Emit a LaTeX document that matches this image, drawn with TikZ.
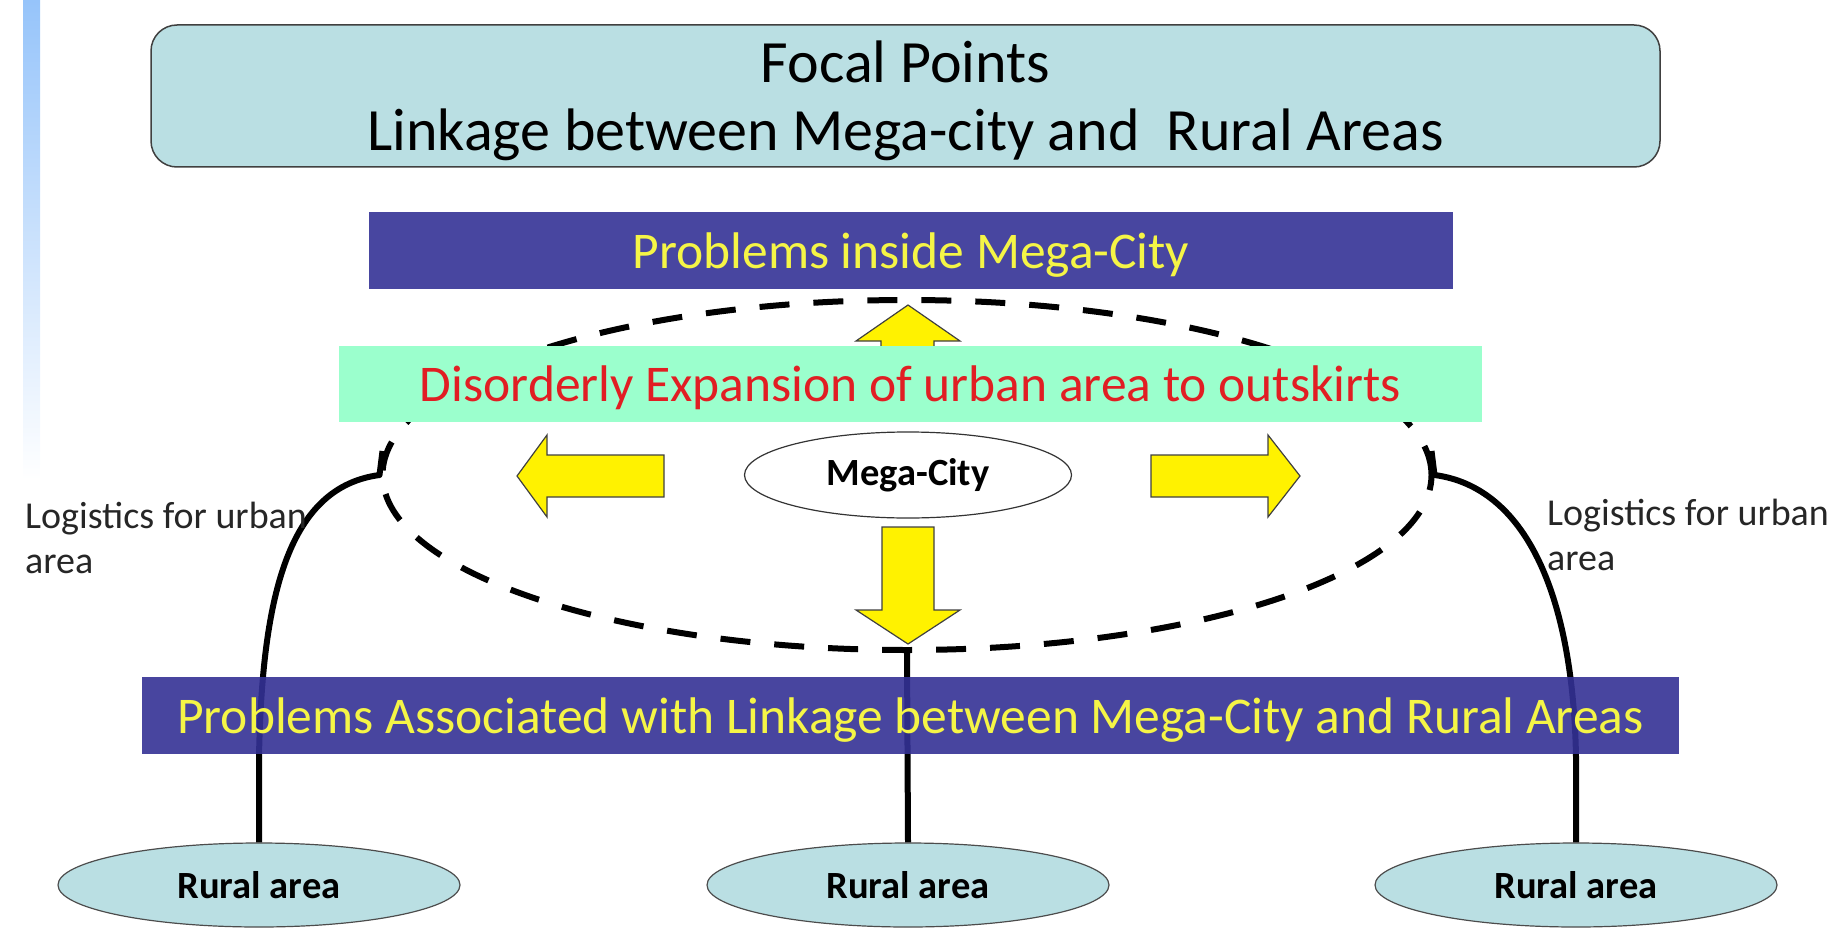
\documentclass[tikz,border=0pt]{standalone}
\usepackage{fontspec}
\setmainfont{Carlito}
\usetikzlibrary{shapes.geometric}
\definecolor{boxcyan}{RGB}{186,223,227}
\definecolor{navy}{RGB}{72,70,160}
\definecolor{navydeep}{RGB}{52,49,149}
\definecolor{mint}{RGB}{155,255,205}
\definecolor{ytext}{RGB}{245,245,70}
\definecolor{rtext}{RGB}{225,30,35}
\definecolor{barblue}{RGB}{150,196,250}
\begin{document}
\begin{tikzpicture}[x=1pt,y=-1pt,
  bandbox/.style={rectangle, inner sep=0pt, fill=navy, text=ytext, minimum height=77pt, text depth=0pt, font=\fontsize{51.5}{58}\selectfont},
  yarrow/.style={fill=yellow, draw=black!75, line width=1.2pt, line join=miter},
  link/.style={line width=6pt, black},
  rural/.style={ellipse, draw=black!70, line width=1.2pt, fill=boxcyan, minimum width=402pt, minimum height=84pt, inner sep=0pt, font=\bfseries\fontsize{38.5}{44}\selectfont},
  logi/.style={anchor=west, align=left, inner sep=0pt, text=black!85, font=\fontsize{38}{45}\selectfont}]
\useasboundingbox (0,0) rectangle (1827,952);
\clip (0,0) rectangle (1827,952);
% side bar
\shade[top color=barblue, bottom color=white] (23,0) rectangle (40,480);
% title box
\node[rectangle, rounded corners=26pt, draw=black!75, line width=1.5pt, fill=boxcyan,
      minimum width=1509pt, minimum height=142pt, align=center, inner sep=0pt, text depth=0pt,
      font=\fontsize{60}{68}\selectfont] (focal) at (905.5,96)
      {Focal Points\\Linkage between Mega-city and\ \ Rural Areas};
% problems inside
\node[bandbox, minimum width=1084pt] (inside) at (911,250.5) {Problems inside Mega-City};
% dashed region
\node[ellipse, draw, dash pattern=on 30pt off 24pt, line width=6pt,
      minimum width=1049pt, minimum height=350pt, inner sep=0pt] (region) at (907,475) {};
% up arrow
\draw[yarrow] (881,390) -- (881,341) -- (856,341) -- (908,305) -- (960,341) -- (934,341) -- (934,390) -- cycle;
% green band
\node[rectangle, inner sep=0pt, fill=mint, text=rtext, minimum width=1143pt, minimum height=76pt, text depth=0pt,
      font=\fontsize{51.5}{58}\selectfont] (expand) at (910.5,384) {Disorderly Expansion of urban area to outskirts};
% mega city
\node[ellipse, draw=black!80, line width=1.2pt, fill=white, minimum width=327pt, minimum height=86pt,
      inner sep=0pt, font=\bfseries\fontsize{38.5}{44}\selectfont] (mega) at (908,475) {Mega-City};
% side arrows
\draw[yarrow] (664,455) -- (547,455) -- (547,435) -- (517,476) -- (547,517) -- (547,497) -- (664,497) -- cycle;
\draw[yarrow] (1151,455) -- (1268,455) -- (1268,435) -- (1300,476) -- (1268,517) -- (1268,497) -- (1151,497) -- cycle;
% down arrow
\draw[yarrow] (882,527) -- (934,527) -- (934,610) -- (960,610) -- (908,644) -- (856,610) -- (882,610) -- cycle;
% rural areas
\node[rural] (rl) at (259,885) {Rural area};
\node[rural] (rm) at (908,885) {Rural area};
\node[rural] (rr) at (1576,885) {Rural area};
% connectors
\draw[link] (rm.north) -- (region.south);
\draw[link, line join=round] (rl.north) -- ++(0,-85) .. controls +(3,-165) and +(-90,12) .. (region.west) -- ++(3,-24);
\draw[link, line join=round] (rr.north) -- ++(0,-85) .. controls +(-3,-165) and +(90,12) .. (region.east) -- ++(-3,-24);
% linkage band
\node[bandbox, fill=navydeep, fill opacity=0.9, text opacity=1, minimum width=1537pt] (linkage) at (910.5,715.5)
      {Problems Associated with Linkage between Mega-City and Rural Areas};
% labels
\node[logi] (lablft) at (25,538) {Logistics for urban\\area};
\node[logi] (labrgt) at (1547,535) {Logistics for urban\\area};
\end{tikzpicture}
\end{document}
